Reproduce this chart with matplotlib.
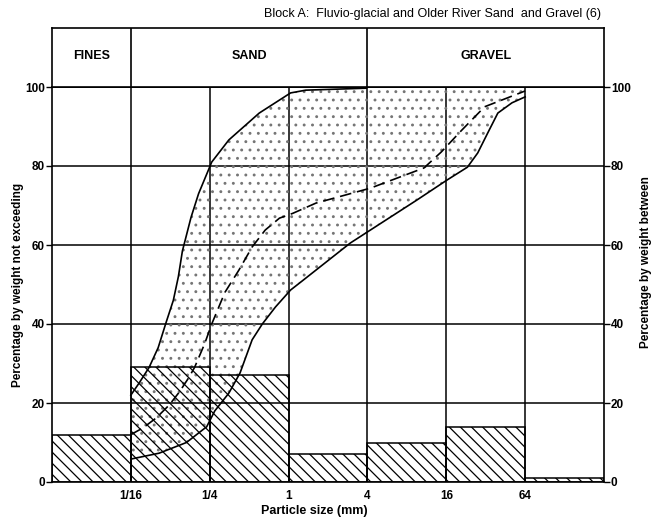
import numpy as np
import matplotlib
matplotlib.use("Agg")
import matplotlib.pyplot as plt

plt.rcParams['font.family'] = ['Liberation Sans', 'DejaVu Sans']
plt.rcParams['hatch.linewidth'] = 0.9

# class boundaries (mm) and percentage by weight between them
class_edges = [1/64, 1/16, 1/4, 1, 4, 16, 64, 256]
pct_between = [12, 29, 27, 7, 10, 14, 1]

# grading envelope, upper limit (mm, % not exceeding)
upper_mm = [0.0625, 0.0721, 0.0861, 0.101, 0.1164, 0.1319, 0.1441, 0.1547,
            0.180, 0.2056, 0.259, 0.350, 0.597, 1.036, 1.353, 3.93, 4.0, 64]
upper_pct = [22, 25, 29, 34, 40.5, 46, 52, 58.5,
             67, 73, 81, 86.6, 93.4, 98.5, 99.2, 99.7, 100, 100]

# grading envelope, lower limit
lower_mm = [0.0625, 0.1028, 0.1661, 0.2371, 0.2733, 0.350, 0.426, 0.527,
            0.630, 0.794, 1.036, 1.282, 2.96, 4.22, 9.56, 16.3, 23.2,
            27.8, 33.2, 39.6, 50.8, 64]
lower_pct = [5.8, 7.3, 10, 14, 18, 22.5, 27.6, 36,
             40, 44.3, 48.6, 51, 60.5, 63.8, 71.4, 76.5, 79.7,
             83.3, 88.4, 93.4, 96, 97.5]

# mean grading curve
mean_mm = [0.0625, 0.0774, 0.0975, 0.1228, 0.1467, 0.1721, 0.1915, 0.2093,
           0.2287, 0.259, 0.3264, 0.4186, 0.527, 0.664, 0.852, 1.074, 1.616,
           4.22, 10.8, 14.6, 20.9, 31.4, 53.6, 64]
mean_pct = [12, 13.7, 16.2, 19.5, 22.8, 26.3, 29, 32,
            35, 40, 48, 53.7, 59.5, 63.8, 66.8, 68, 70.6,
            74.4, 79.5, 83.5, 89, 95, 98, 99]

tick_mm = [1/16, 1/4, 1, 4, 16, 64]
tick_labels = ['1/16', '1/4', '1', '4', '16', '64']
pct_ticks = [0, 20, 40, 60, 80, 100]

headers = [('FINES', 1/64, 1/16), ('SAND', 1/16, 4), ('GRAVEL', 4, 256)]

fig = plt.figure(figsize=(6.58, 5.26), dpi=100)
W, H = 658, 526
ax = fig.add_axes([52/W, 1 - 482/H, 552/W, 395/H])
hax = fig.add_axes([52/W, 1 - 87/H, 552/W, 59/H], sharex=ax)

ax.set_xscale('log', base=4)
ax.set_xlim(class_edges[0], class_edges[-1])
ax.set_ylim(0, 100)

# grid
for x in class_edges[1:-1]:
    ax.axvline(x, color='black', lw=1.1, zorder=1)
for y in pct_ticks[1:]:
    ax.axhline(y, color='black', lw=1.1, zorder=1)

# stippled envelope
env_x = np.concatenate([upper_mm, lower_mm[::-1]])
env_y = np.concatenate([upper_pct, lower_pct[::-1]])
ax.fill(env_x, env_y, facecolor='none', edgecolor='#757575', hatch='..',
        lw=0, zorder=2)

# histogram bars
lefts = np.array(class_edges[:-1])
widths = np.array(class_edges[1:]) - lefts
ax.bar(lefts, pct_between, width=widths, align='edge', fill=False,
       edgecolor='black', hatch='\\\\\\', lw=1.1, zorder=3)

ax.plot(upper_mm, upper_pct, color='black', lw=1.2, zorder=4)
ax.plot(lower_mm, lower_pct, color='black', lw=1.2, zorder=4)
ax.plot(mean_mm, mean_pct, color='black', lw=1.2, dashes=(7, 3.5), zorder=4)

ax.set_xticks(tick_mm)
ax.set_xticklabels(tick_labels, fontweight='bold', fontsize=8.5)
ax.xaxis.set_minor_locator(plt.NullLocator())
ax.tick_params(axis='x', length=0, pad=6)
ax.set_yticks(pct_ticks)
ax.set_yticklabels(pct_ticks, fontweight='bold', fontsize=8.5)
ax.tick_params(axis='y', length=4, width=1, pad=1, direction='out',
               left=True, right=True, labelright=True)
for s in ax.spines.values():
    s.set_linewidth(1.2)

# header boxes
hax.set_ylim(0, 1)
hax.tick_params(left=False, bottom=False, labelleft=False, labelbottom=False)
hax.xaxis.set_minor_locator(plt.NullLocator())
for s in hax.spines.values():
    s.set_linewidth(1.2)
for name, x0, x1 in headers:
    if x0 > class_edges[0]:
        hax.axvline(x0, color='black', lw=1.2)
    hax.text(np.sqrt(x0 * x1), 0.52, name, ha='center', va='center',
             fontweight='bold', fontsize=9)

fig.text(601/W, 1 - 14/H, 'Block A:  Fluvio-glacial and Older River Sand  and Gravel (6)',
         ha='right', va='center', fontsize=9)
fig.text(18/W, 1 - 285/H, 'Percentage by weight not exceeding', rotation=90,
         ha='center', va='center', fontweight='bold', fontsize=8.5)
fig.text(646/W, 1 - 262/H, 'Percentage by weight between', rotation=90,
         ha='center', va='center', fontweight='bold', fontsize=8.5)
fig.text(314/W, 1 - 511/H, 'Particle size (mm)', ha='center', va='center',
         fontweight='bold', fontsize=9)

fig.savefig('out.png', dpi=100)
